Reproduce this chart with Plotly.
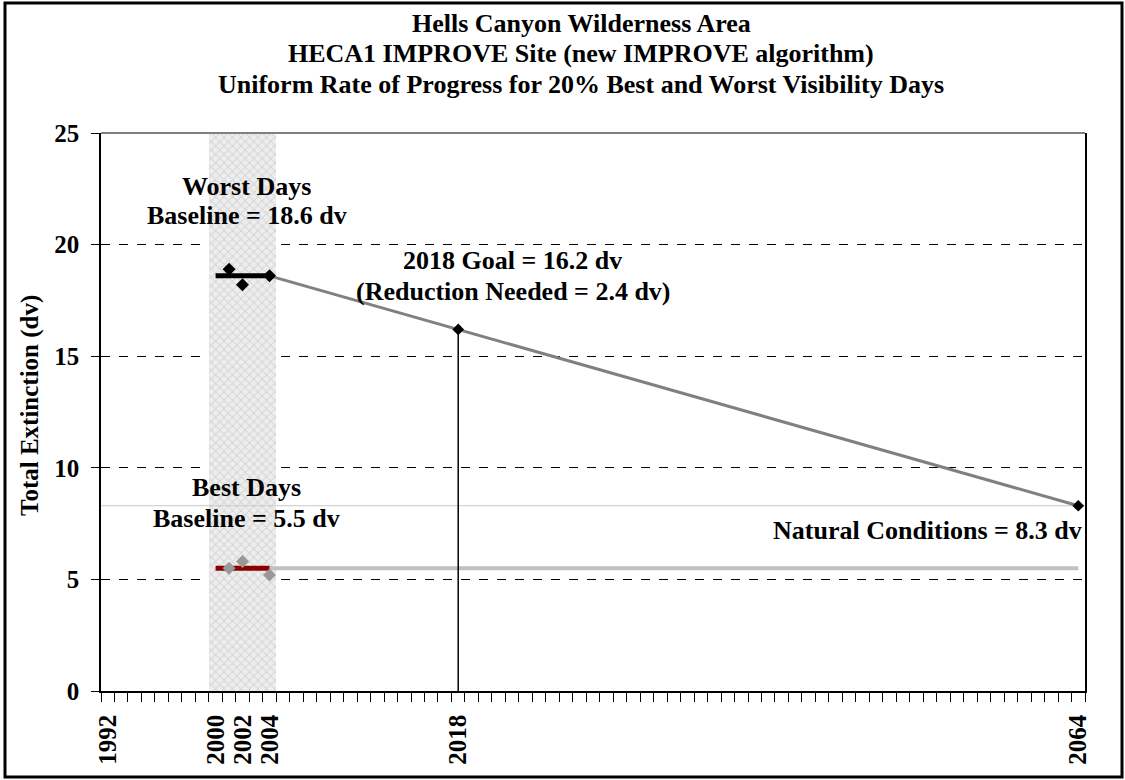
import plotly.graph_objects as go

# ---------------- data ----------------
baseline_years = [2000, 2004]
worst_years = [2001, 2002, 2004]
worst_values = [18.9, 18.2, 18.6]
best_years = [2001, 2002, 2004]
best_values = [5.5, 5.8, 5.2]
worst_baseline = 18.6
best_baseline = 5.5
glide_years = [2004, 2018, 2064]
glide_values = [18.6, 16.2, 8.3]
goal_year = 2018
goal_value = 16.2
natural_value = 8.3
x_min, x_max = 1991.5, 2064.5
tick_years = [1992, 2000, 2002, 2004, 2018, 2064]
y_ticks = [0, 5, 10, 15, 20, 25]
title_lines = ["Hells Canyon Wilderness Area",
               "HECA1 IMPROVE Site (new IMPROVE algorithm)",
               "Uniform Rate of Progress for 20% Best and Worst Visibility Days"]

FONT = "Liberation Serif"
W, H = 1125, 780
ML, MR, MT, MB = 101, 40, 133, 89
PW, PH = W - ML - MR, H - MT - MB


def px_x(px):
    return (px - ML) / PW


def px_y(py):
    return (H - MB - py) / PH


fig = go.Figure()

# shaded baseline period
fig.add_trace(go.Bar(
    x=[(baseline_years[0] + baseline_years[1]) / 2], y=[y_ticks[-1]],
    width=[baseline_years[1] - baseline_years[0] + 1],
    marker=dict(color="white", line=dict(width=0),
                pattern=dict(shape="x", fgcolor="#bdbdbd", bgcolor="#eeeeee", size=6, solidity=0.3)),
    hoverinfo="skip", showlegend=False))

# natural conditions thin line
fig.add_trace(go.Scatter(x=[x_min, x_max], y=[natural_value, natural_value], mode="lines",
                         line=dict(color="#c8c8c8", width=1), showlegend=False))

# best days: gray continuation
fig.add_trace(go.Scatter(x=[baseline_years[1], glide_years[-1]], y=[best_baseline, best_baseline],
                         mode="lines", line=dict(color="#c0c0c0", width=4), showlegend=False))
# best baseline
fig.add_trace(go.Scatter(x=baseline_years, y=[best_baseline, best_baseline], mode="lines",
                         line=dict(color="#8b0000", width=5), showlegend=False))
fig.add_trace(go.Scatter(x=best_years, y=best_values, mode="markers",
                         marker=dict(symbol="diamond", color="#999999", size=10), showlegend=False))

# glide path
fig.add_trace(go.Scatter(x=glide_years, y=glide_values, mode="lines",
                         line=dict(color="#808080", width=3), showlegend=False))
# 2018 vertical line
fig.add_trace(go.Scatter(x=[goal_year, goal_year], y=[0, goal_value], mode="lines",
                         line=dict(color="black", width=1.5), showlegend=False))
# worst baseline
fig.add_trace(go.Scatter(x=baseline_years, y=[worst_baseline, worst_baseline], mode="lines",
                         line=dict(color="black", width=5), showlegend=False))
fig.add_trace(go.Scatter(x=worst_years, y=worst_values, mode="markers",
                         marker=dict(symbol="diamond", color="black", size=10), showlegend=False))
fig.add_trace(go.Scatter(x=glide_years, y=glide_values, mode="markers",
                         marker=dict(symbol="diamond", color="black", size=9), showlegend=False))

bold = dict(family=FONT, size=26, color="black", weight="bold")
bold25 = dict(family=FONT, size=25, color="black", weight="bold")


def ann(text, x, y, xanchor="center"):
    fig.add_annotation(text=text, x=x, y=y, xref="x", yref="y", showarrow=False,
                       xanchor=xanchor, yanchor="middle", font=bold)


ann("Worst Days", 2002.3, 22.6)
ann(f"Baseline = {worst_baseline} dv", 2002.3, 21.3)
ann(f"{goal_year} Goal = {goal_value} dv", 2022.0, 19.3)
ann(f"(Reduction Needed = {worst_baseline - goal_value:.1f} dv)", 2022.1, 17.9)
ann("Best Days", 2002.3, 9.1)
ann(f"Baseline = {best_baseline} dv", 2002.3, 7.75)
ann(f"Natural Conditions = {natural_value} dv", 2064.4, 7.2, xanchor="right")

# title lines
for i, line in enumerate(title_lines):
    fig.add_annotation(text=line, x=px_x(581), y=px_y(23 + 30.5 * i), xref="paper", yref="paper",
                       showarrow=False, xanchor="center", yanchor="middle", font=bold)

# y axis title
fig.add_annotation(text="Total Extinction (dv)", textangle=-90, x=px_x(30), y=px_y(406),
                   xref="paper", yref="paper", showarrow=False, xanchor="center", yanchor="middle",
                   font=bold25)

# plot area top border (gray) and outer frame
fig.add_shape(type="line", xref="paper", yref="paper", x0=0, x1=1, y0=1, y1=1,
              line=dict(color="#808080", width=2))
fig.add_shape(type="rect", xref="paper", yref="paper",
              x0=px_x(5), x1=px_x(W - 3), y0=px_y(H - 3), y1=px_y(3),
              line=dict(color="black", width=3))

fig.update_layout(
    width=W, height=H,
    margin=dict(l=ML, r=MR, t=MT, b=MB),
    paper_bgcolor="white", plot_bgcolor="white",
    bargap=0,
    xaxis=dict(range=[x_min, x_max], showgrid=False, zeroline=False,
               showline=True, linecolor="black", linewidth=1.5,
               tickmode="array", tickvals=tick_years, ticktext=[str(t) for t in tick_years],
               ticks="", tickangle=-90, tickfont=bold25, ticklabelstandoff=12,
               minor=dict(tickmode="linear", tick0=x_min, dtick=1, ticks="outside",
                          ticklen=9, tickcolor="black", tickwidth=1, showgrid=False)),
    yaxis=dict(range=[y_ticks[0], y_ticks[-1]], tickvals=y_ticks, showgrid=True,
               gridcolor="black", griddash="dash", gridwidth=1, zeroline=False,
               showline=True, linecolor="black", linewidth=1.5, mirror=True,
               ticks="outside", ticklen=8, tickcolor="black", tickfont=bold25,
               ticklabelstandoff=7),
)

fig.write_html("out.html", post_script="document.body.style.margin='0';",
               config={"displayModeBar": False})
